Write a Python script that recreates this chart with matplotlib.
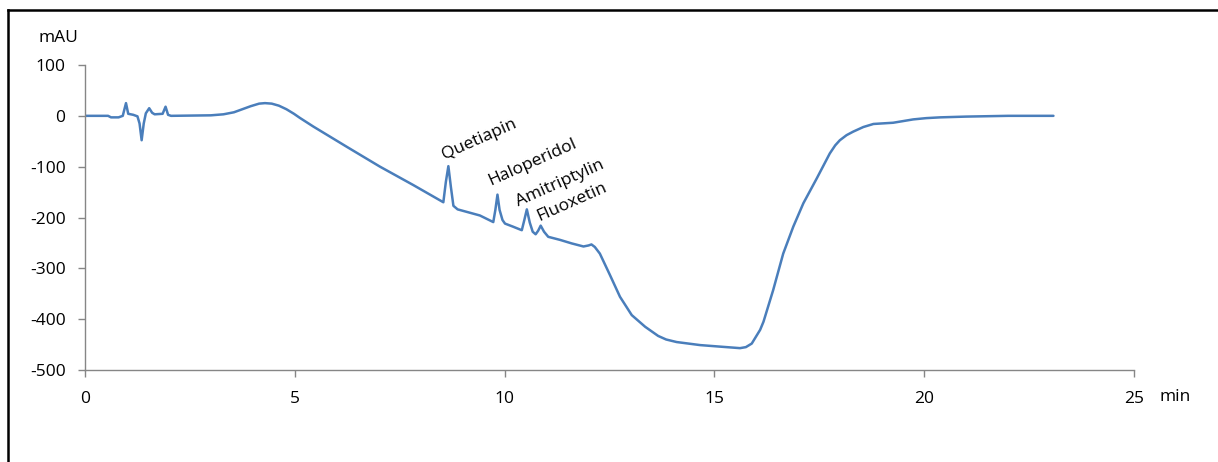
import matplotlib
matplotlib.use("Agg")
import matplotlib.pyplot as plt
from matplotlib.lines import Line2D

# Chromatogram trace (retention time in min, absorbance in mAU)
time_min = [0.0, 0.55, 0.62, 0.8, 0.9, 0.977, 1.03, 1.15, 1.25, 1.3, 1.35, 1.4,
            1.45, 1.53, 1.6, 1.66, 1.85, 1.92, 1.98, 2.05, 3.0, 3.3, 3.55, 3.75,
            3.95, 4.15, 4.29, 4.45, 4.62, 4.8, 4.98, 5.12, 5.44, 6.24, 7.03,
            7.82, 8.54, 8.6, 8.66, 8.72, 8.78, 8.88, 9.41, 9.73, 9.78, 9.83,
            9.88, 9.95, 10.01, 10.2, 10.41, 10.47, 10.53, 10.6, 10.67, 10.74,
            10.8, 10.86, 10.94, 11.04, 11.32, 11.6, 11.88, 12.0, 12.07, 12.15,
            12.27, 12.51, 12.75, 13.03, 13.35, 13.66, 13.85, 14.1, 14.66, 15.13,
            15.61, 15.75, 15.89, 16.09, 16.17, 16.4, 16.64, 16.88, 17.12, 17.44,
            17.75, 17.88, 17.99, 18.15, 18.31, 18.55, 18.79, 19.26, 19.74,
            20.05, 20.38, 21.0, 22.0, 23.08]
signal_mau = [0, 0, -3, -3, 0, 25, 4, 2, -1, -15, -48, -15,
              5, 15, 6, 3, 4, 18, 2, 0, 1, 3, 7, 13,
              19, 24, 25, 24, 20, 13, 4, -4, -21, -61, -100,
              -136, -170, -130, -99, -140, -177, -184, -196, -209, -185, -155,
              -185, -205, -212, -218, -225, -205, -184, -210, -228, -233,
              -226, -216, -228, -238, -244, -251, -257, -255, -253, -258,
              -271, -313, -356, -392, -415, -433, -440, -445, -451, -454,
              -457, -455, -448, -421, -405, -343, -271, -218, -172, -123,
              -74, -58, -48, -38, -31, -22, -16, -13.6, -7,
              -4.5, -3, -1.5, 0, 0]

# Labelled peaks
peak_names = ["Quetiapin", "Haloperidol", "Amitriptylin", "Fluoxetin"]
peak_times = [8.66, 9.83, 10.53, 10.86]
peak_values = [-99, -155, -184, -216]

x_ticks = [0, 5, 10, 15, 20, 25]
y_ticks = [100, 0, -100, -200, -300, -400, -500]

plt.rcParams["font.family"] = ["Open Sans", "DejaVu Sans"]

fig = plt.figure(figsize=(12.18, 4.62), dpi=100)
ax = fig.add_axes([85 / 1218, 92 / 462, (1134 - 85) / 1218, (370 - 65) / 462])

line_color = "#4a7ebb"
ax.plot(time_min, signal_mau, color=line_color, lw=1.8,
        solid_joinstyle="round", solid_capstyle="round")

ax.set_xlim(0, 25)
ax.set_ylim(-500, 100)
ax.set_xticks(x_ticks)
ax.set_yticks(y_ticks)
ax.set_xticklabels([str(v) for v in x_ticks])
ax.set_yticklabels([str(v) for v in y_ticks])

axis_grey = "#868686"
for side in ("top", "right"):
    ax.spines[side].set_visible(False)
for side in ("left", "bottom"):
    ax.spines[side].set_color(axis_grey)
    ax.spines[side].set_linewidth(1.0)
ax.tick_params(axis="both", direction="out", length=5, width=1.0,
               color=axis_grey, labelsize=12.5, labelcolor="black")
ax.tick_params(axis="y", pad=9)
ax.tick_params(axis="x", pad=10)

# Unit labels
fig.text(58 / 1218, 1 - 38 / 462, "mAU", ha="center", va="center", fontsize=12.5)
fig.text(1175 / 1218, 1 - 397 / 462, "min", ha="center", va="center", fontsize=12.5)

# Peak annotations, rotated along the descending baseline
offsets = [(-3, 5), (-5, 7), (-6, 2), (-1, 3)]
for name, t, v, off in zip(peak_names, peak_times, peak_values, offsets):
    ax.annotate(name, xy=(t, v), xytext=off, textcoords="offset points",
                rotation=24, rotation_mode="anchor", ha="left", va="baseline",
                fontsize=12.5, color="black")

# Outer chart border
fig.add_artist(Line2D([8 / 1218, 1.0], [1 - 10 / 462, 1 - 10 / 462],
                      transform=fig.transFigure, color="black", lw=1.8))
fig.add_artist(Line2D([8 / 1218, 8 / 1218], [0.0, 1 - 10 / 462],
                      transform=fig.transFigure, color="black", lw=1.8))

fig.savefig("out.png", dpi=100, facecolor="white")
